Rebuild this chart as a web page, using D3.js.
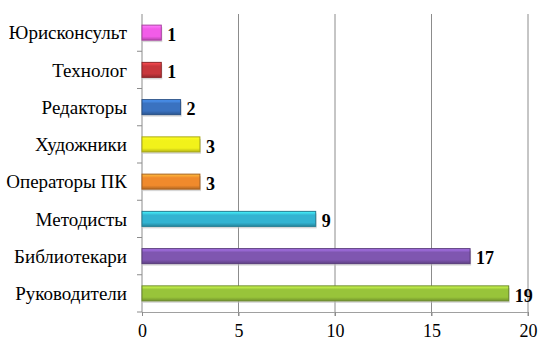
<!DOCTYPE html>
<html>
<head>
<meta charset="utf-8">
<script src="https://cdn.jsdelivr.net/npm/d3@7"></script>
<style>
  body { margin: 0; background: #fff; }
</style>
</head>
<body>
<div id="chart"></div>
<script>
// data, top to bottom
const categories = ["Юрисконсульт", "Технолог", "Редакторы", "Художники", "Операторы ПК", "Методисты", "Библиотекари", "Руководители"];
const counts = [1, 1, 2, 3, 3, 9, 17, 19];
const barColors = ["#f25ce8", "#c8373c", "#3a72c0", "#f2f21a", "#f08a2c", "#33b4d2", "#7f56b0", "#98c43a"];
const xTicks = [0, 5, 10, 15, 20];

const serif = '"Liberation Serif", "Times New Roman", serif';
const width = 552, height = 352;
const margin = {top: 14, right: 24, bottom: 40, left: 142};

const svg = d3.select('#chart')
    .append('svg')
    .attr('width', width)
    .attr('height', height);

const x = d3.scaleLinear()
    .domain([0, 20])
    .range([margin.left, width - margin.right]);

const y = d3.scaleBand()
    .domain(categories)
    .range([margin.top, height - margin.bottom]);

// gradients for the bevelled look
const defs = svg.append('defs');
barColors.forEach(function (c, i) {
    let g = defs.append('linearGradient')
        .attr('id', 'grad' + i)
        .attr('x1', 0).attr('y1', 0).attr('x2', 0).attr('y2', 1);
    g.append('stop').attr('offset', '0%').attr('stop-color', d3.color(c).brighter(0.9));
    g.append('stop').attr('offset', '25%').attr('stop-color', c);
    g.append('stop').attr('offset', '75%').attr('stop-color', c);
    g.append('stop').attr('offset', '100%').attr('stop-color', d3.color(c).darker(0.8));
});

// vertical grid lines
svg.append('g')
    .selectAll('line')
    .data(xTicks.slice(1))
    .join('line')
    .attr('x1', d => x(d)).attr('x2', d => x(d))
    .attr('y1', margin.top).attr('y2', height - margin.bottom + 4)
    .attr('stroke', '#8c8c8c')
    .attr('stroke-width', 1);

// x axis
const xAxis = svg.append('g')
    .attr('transform', 'translate(0,' + (height - margin.bottom) + ')')
    .call(d3.axisBottom(x).tickValues(xTicks).tickSize(4).tickPadding(8))
    .attr('font-family', serif);
xAxis.select('.domain').attr('stroke', '#a0a0a0');
xAxis.selectAll('.tick line').attr('stroke', '#8c8c8c');
xAxis.selectAll('.tick text')
    .attr('font-size', 18)
    .attr('fill', '#000');

// y axis with ticks at band boundaries
const yAxisG = svg.append('g')
    .attr('transform', 'translate(' + margin.left + ',0)');
yAxisG.append('line')
    .attr('x1', 0).attr('x2', 0)
    .attr('y1', margin.top).attr('y2', height - margin.bottom)
    .attr('stroke', '#8c8c8c');
yAxisG.selectAll('.bound')
    .data(categories)
    .join('line')
    .attr('class', 'bound')
    .attr('x1', -5).attr('x2', 0)
    .attr('y1', d => y(d) + y.bandwidth())
    .attr('y2', d => y(d) + y.bandwidth())
    .attr('stroke', '#8c8c8c');
yAxisG.selectAll('.cat')
    .data(categories)
    .join('text')
    .attr('class', 'cat')
    .attr('x', -15)
    .attr('y', d => y(d) + y.bandwidth() / 2)
    .attr('dy', '0.35em')
    .attr('text-anchor', 'end')
    .attr('font-family', serif)
    .attr('font-size', 19)
    .text(d => d);

const barH = 15;

// bar shadows
svg.append('g')
    .selectAll('rect')
    .data(counts)
    .join('rect')
    .attr('x', x(0) + 1)
    .attr('y', (d, i) => y(categories[i]) + y.bandwidth() / 2 - barH / 2 + 2)
    .attr('width', d => x(d) - x(0))
    .attr('height', barH)
    .attr('fill', '#bdbdbd')
    .attr('opacity', 0.6);

// bars
svg.append('g')
    .selectAll('rect')
    .data(counts)
    .join('rect')
    .attr('x', x(0))
    .attr('y', (d, i) => y(categories[i]) + y.bandwidth() / 2 - barH / 2)
    .attr('width', d => x(d) - x(0))
    .attr('height', barH)
    .attr('fill', (d, i) => 'url(#grad' + i + ')')
    .attr('stroke', (d, i) => d3.color(barColors[i]).darker(1))
    .attr('stroke-width', 1);

// value labels
svg.append('g')
    .selectAll('text')
    .data(counts)
    .join('text')
    .attr('x', d => x(d) + 6)
    .attr('y', (d, i) => y(categories[i]) + y.bandwidth() / 2 + 2)
    .attr('dy', '0.35em')
    .attr('font-family', serif)
    .attr('font-size', 18)
    .attr('font-weight', 'bold')
    .text(d => d);
</script>
</body>
</html>
